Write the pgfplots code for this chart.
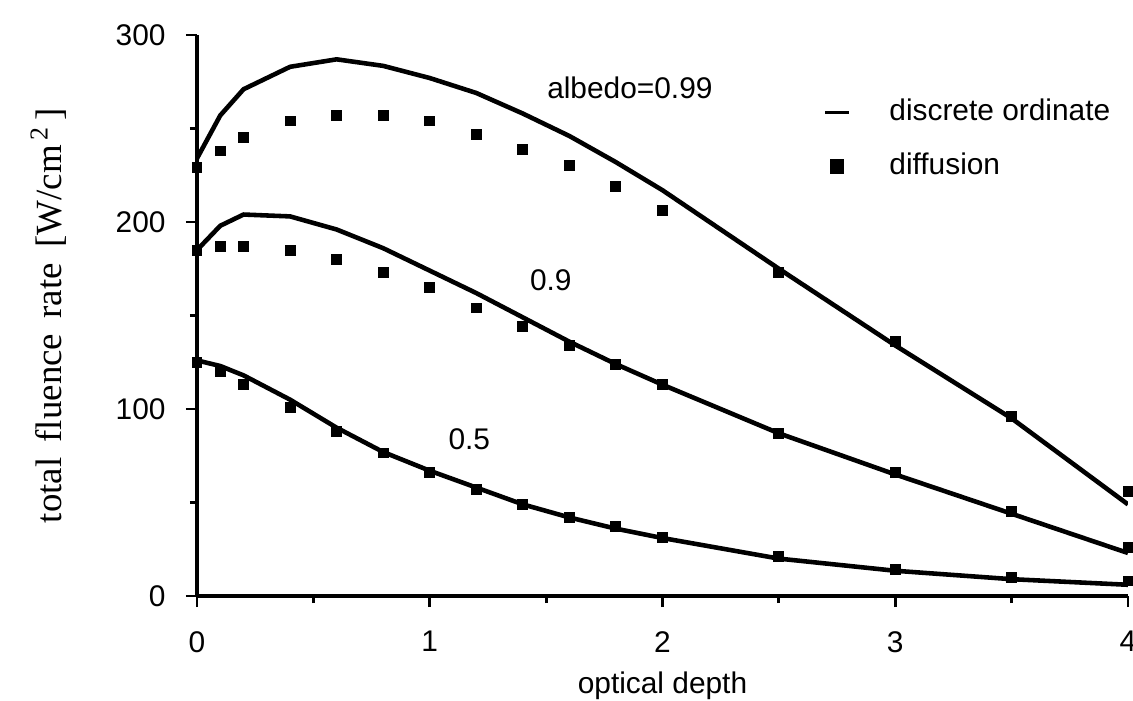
\documentclass[border=0pt]{standalone}
\usepackage{pgfplots}
\pgfplotsset{compat=1.18}
\usepackage{fontspec}
\setmainfont{Liberation Sans}
\newfontfamily\seriffont{Liberation Serif}

\begin{document}
\begin{tikzpicture}
\begin{axis}[
    scale only axis,
    width=9.31cm, height=5.61cm,
    xmin=0, xmax=4, ymin=0, ymax=300,
    axis lines=left,
    axis line style={-, line width=0.9pt},
    xtick={0,1,2,3,4},
    ytick={0,100,200,300},
    minor xtick={0.5,1.5,2.5,3.5},
    minor ytick={50,150,250},
    tick align=outside,
    major tick length=0.11cm,
    minor tick length=0.07cm,
    every tick/.style={black, line width=0.8pt},
    tick label style={font=\fontsize{8.5}{10}\selectfont},
    /pgf/number format/assume math mode=true,
    xticklabel style={yshift=-0.12cm},
    yticklabel style={xshift=-0.08cm},
    xlabel={optical depth},
    xlabel style={font=\fontsize{8.5}{10}\selectfont, yshift=0.05cm},
    ylabel={\seriffont total\, fluence\, rate\, [W/cm\textsuperscript{\,2}\,]},
    ylabel style={font=\fontsize{10.5}{12}\selectfont, yshift=0.25cm},
    legend style={draw=none, fill=none, at={(0.672,0.9)}, anchor=north west,
        inner sep=0pt, font=\fontsize{8.5}{10}\selectfont, row sep=0.13cm},
    legend cell align=left,
]
% albedo 0.99
\addplot[black, line width=1.3pt,
    legend image code/.code={\draw[black, line width=1pt] (0cm,0cm) -- (0.24cm,0cm);
        \path (0.55cm,0cm);}]
    coordinates {
    (0,234) (0.1,257) (0.2,271) (0.4,283) (0.6,287) (0.8,283.5)
    (1.0,277) (1.2,269) (1.4,258) (1.6,246) (1.8,232) (2.0,217)
    (2.5,175) (3.0,134) (3.5,95) (4.0,49)
};
\addlegendentry{discrete ordinate}
\addplot[only marks, mark=square*, mark size=1.35pt, black,
    legend image code/.code={\fill[black] (0.055cm,-0.07cm) rectangle (0.185cm,0.07cm);
        \path (0.55cm,0cm);}]
    coordinates {
    (0,229) (0.1,238) (0.2,245) (0.4,254) (0.6,257) (0.8,257)
    (1.0,254) (1.2,247) (1.4,239) (1.6,230) (1.8,219) (2.0,206)
    (2.5,173) (3.0,136) (3.5,96) (4.0,56)
};
\addlegendentry{diffusion}
% albedo 0.9
\addplot[black, line width=1.3pt, forget plot] coordinates {
    (0,185) (0.1,198) (0.2,204) (0.4,203) (0.6,196) (0.8,186)
    (1.0,174) (1.2,162) (1.4,149) (1.6,136) (1.8,124) (2.0,113)
    (2.5,87) (3.0,65) (3.5,44) (4.0,23)
};
\addplot[only marks, mark=square*, mark size=1.35pt, black, forget plot] coordinates {
    (0,185) (0.1,187) (0.2,187) (0.4,185) (0.6,180) (0.8,173)
    (1.0,165) (1.2,154) (1.4,144) (1.6,134) (1.8,124) (2.0,113)
    (2.5,87) (3.0,66) (3.5,45) (4.0,26)
};
% albedo 0.5
\addplot[black, line width=1.3pt, forget plot] coordinates {
    (0,126) (0.1,123) (0.2,118) (0.4,105) (0.6,90) (0.8,77)
    (1.0,67) (1.2,58) (1.4,49) (1.6,42) (1.8,36) (2.0,31)
    (2.5,20) (3.0,13.5) (3.5,9) (4.0,6)
};
\addplot[only marks, mark=square*, mark size=1.35pt, black, forget plot] coordinates {
    (0,125) (0.1,120) (0.2,113) (0.4,101) (0.6,88) (0.8,76.5)
    (1.0,66) (1.2,57) (1.4,49) (1.6,42) (1.8,37) (2.0,31.5)
    (2.5,21) (3.0,14) (3.5,10) (4.0,8)
};
\node[font=\fontsize{8.5}{10}\selectfont] at (axis cs:1.86,272) {albedo=0.99};
\node[font=\fontsize{8.5}{10}\selectfont] at (axis cs:1.52,169) {0.9};
\node[font=\fontsize{8.5}{10}\selectfont] at (axis cs:1.17,84) {0.5};
\end{axis}
\pgfresetboundingbox
\path (-1.97cm,-1.04cm) rectangle (9.36cm,5.96cm);
\end{tikzpicture}
\end{document}
